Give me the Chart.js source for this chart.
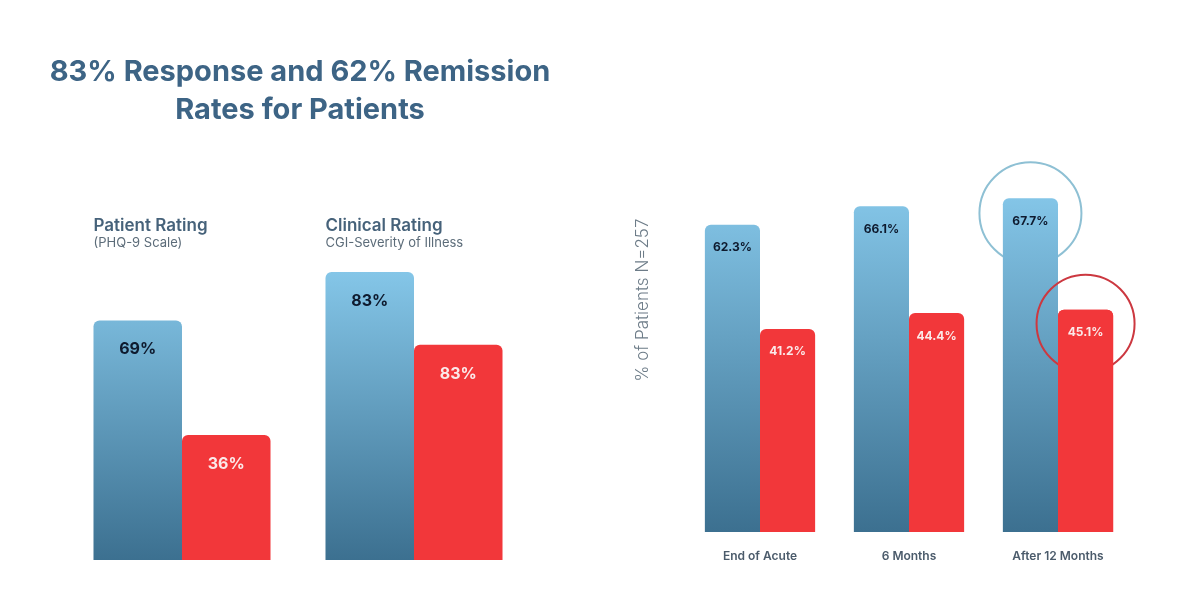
<!DOCTYPE html>
<html>
<head>
<meta charset="utf-8">
<script src="https://cdn.jsdelivr.net/npm/chart.js@4.4.1/dist/chart.umd.min.js"></script>
<style>
  html, body { margin: 0; padding: 0; background: #fff; }
  #wrap { position: relative; width: 1200px; height: 600px; overflow: hidden; }
  h1 {
    position: absolute; left: 0; top: 52px; width: 600px; margin: 0;
    text-align: center; font: 700 29px/38px Inter, sans-serif; color: #3d6485;
  }
  canvas { position: absolute; top: 0; }
</style>
</head>
<body>
<div id="wrap">
  <canvas id="ratingChart" width="600" height="600" style="left:0"></canvas>
  <canvas id="followChart" width="600" height="600" style="left:600px"></canvas>
  <h1>83% Response and 62% Remission<br>Rates for Patients</h1>
</div>
<script>
// Left panel: response vs remission by rating type
const ratingGroups = ['Patient Rating', 'Clinical Rating'];
const ratingScales = ['(PHQ-9 Scale)', 'CGI-Severity of Illness'];
const ratingResponse = [69, 83];
const ratingRemission = [36, 62];
const ratingResponseLabels = ['69%', '83%'];
const ratingRemissionLabels = ['36%', '83%'];

// Right panel: follow-up
const followUps = ['End of Acute', '6 Months', 'After 12 Months'];
const followResponse = [62.3, 66.1, 67.7];
const followRemission = [41.2, 44.4, 45.1];

const FONT = 'Inter, sans-serif';
const RED = '#f2373a';

function blueFill(topValue) {
    return (c) => {
        const chart = c.chart;
        const y = chart.scales.y;
        if (!chart.chartArea || !y) return '#6aaed0';
        const y0 = y.getPixelForValue(0);
        const y1 = y.getPixelForValue(topValue);
        if (!Number.isFinite(y0) || !Number.isFinite(y1)) return '#6aaed0';
        const g = chart.ctx.createLinearGradient(0, y0, 0, y1);
        g.addColorStop(0, '#3c7090');
        g.addColorStop(1, '#86c8ea');
        return g;
    };
}

function barLabels(labelSets, fontSize, offset) {
    return {
        id: 'barLabels',
        afterDatasetsDraw(chart) {
            const ctx = chart.ctx;
            ctx.save();
            ctx.font = `700 ${fontSize}px ${FONT}`;
            ctx.textAlign = 'center';
            ctx.textBaseline = 'middle';
            labelSets.forEach((texts, di) => {
                ctx.fillStyle = di === 0 ? '#0e1a2e' : '#fbe9e9';
                chart.getDatasetMeta(di).data.forEach((bar, i) => {
                    ctx.fillText(texts[i], bar.x, bar.y + offset);
                });
            });
            ctx.restore();
        }
    };
}

const groupHeadings = {
    id: 'groupHeadings',
    afterDraw(chart) {
        const ctx = chart.ctx;
        ctx.save();
        ctx.textAlign = 'left';
        ctx.textBaseline = 'middle';
        chart.getDatasetMeta(0).data.forEach((bar, i) => {
            const left = bar.x - bar.width / 2;
            ctx.font = `600 17px ${FONT}`;
            ctx.fillStyle = '#46627a';
            ctx.fillText(ratingGroups[i], left, 226);
            ctx.font = `400 13px ${FONT}`;
            ctx.fillStyle = '#5c6c79';
            ctx.fillText(ratingScales[i], left, 243);
        });
        ctx.restore();
    }
};

const barStyle = {
    borderRadius: { topLeft: 6, topRight: 6 },
    borderSkipped: 'bottom',
    barPercentage: 1
};

new Chart(document.getElementById('ratingChart'), {
    type: 'bar',
    data: {
        labels: ratingGroups,
        datasets: [
            { label: 'Response', data: ratingResponse, backgroundColor: blueFill(85), categoryPercentage: 0.763, ...barStyle },
            { label: 'Remission', data: ratingRemission, backgroundColor: RED, categoryPercentage: 0.763, ...barStyle }
        ]
    },
    options: {
        responsive: false,
        animation: false,
        layout: { padding: { left: 66, right: 70, top: 213, bottom: 40 } },
        plugins: { legend: { display: false }, tooltip: { enabled: false } },
        scales: {
            x: { display: false },
            y: { display: false, min: 0, max: 100 }
        }
    },
    plugins: [barLabels([ratingResponseLabels, ratingRemissionLabels], 16, 29), groupHeadings]
});

const pct = (arr) => arr.map(v => v.toFixed(1) + '%');

// circles around the 12-month bars
const highlight = {
    id: 'highlight',
    beforeDatasetsDraw(chart) {
        const bar = chart.getDatasetMeta(0).data[2];
        const ctx = chart.ctx;
        ctx.save();
        ctx.strokeStyle = '#8ec0d4';
        ctx.lineWidth = 2;
        ctx.beginPath();
        ctx.arc(bar.x, bar.y + 15, 51, 0, Math.PI * 2);
        ctx.stroke();
        ctx.restore();
    },
    afterDatasetsDraw(chart) {
        const bar = chart.getDatasetMeta(1).data[2];
        const ctx = chart.ctx;
        ctx.save();
        ctx.strokeStyle = '#cc3840';
        ctx.lineWidth = 2;
        ctx.beginPath();
        ctx.arc(bar.x, bar.y + 14, 49, 0, Math.PI * 2);
        ctx.stroke();
        ctx.restore();
        bar.draw(ctx);   // keep the red bar above its ring
    }
};

const yTitle = {
    id: 'yTitle',
    afterDraw(chart) {
        const ctx = chart.ctx;
        ctx.save();
        ctx.translate(43, 300);
        ctx.rotate(-Math.PI / 2);
        ctx.font = `300 17px ${FONT}`;
        ctx.fillStyle = '#6d7c88';
        ctx.textAlign = 'center';
        ctx.textBaseline = 'middle';
        ctx.fillText('% of Patients N=257', 0, 0);
        ctx.restore();
    }
};

new Chart(document.getElementById('followChart'), {
    type: 'bar',
    data: {
        labels: followUps,
        datasets: [
            { label: 'Response', data: followResponse, backgroundColor: blueFill(70), categoryPercentage: 0.74, ...barStyle },
            { label: 'Remission', data: followRemission, backgroundColor: RED, categoryPercentage: 0.74, ...barStyle }
        ]
    },
    options: {
        responsive: false,
        animation: false,
        layout: { padding: { left: 85.5, right: 67.5, top: 39, bottom: 19.6 } },
        plugins: { legend: { display: false }, tooltip: { enabled: false } },
        scales: {
            x: {
                grid: { display: false, drawTicks: false },
                border: { display: false },
                ticks: { padding: 17, color: '#4b5b6b', font: { family: FONT, size: 12, weight: '600' } }
            },
            y: { display: false, min: 0, max: 100 }
        }
    },
    plugins: [highlight, barLabels([pct(followResponse), pct(followRemission)], 12, 23), yTitle]
});
</script>
</body>
</html>
